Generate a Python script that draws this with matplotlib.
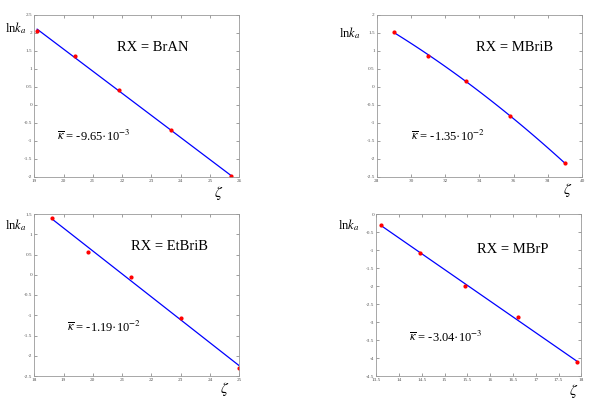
import numpy as np
import matplotlib
matplotlib.use("Agg")
import matplotlib.pyplot as plt

plt.rcParams["font.family"] = "Liberation Serif"
plt.rcParams["mathtext.fontset"] = "stix"

# data
zeta_bran = [19.1, 20.4, 21.9, 23.65, 25.7]
lnk_bran = [2.05, 1.35, 0.43, -0.70, -1.97]
zeta_mbrib = [29.0, 31.0, 33.2, 35.8, 39.0]
lnk_mbrib = [1.53, 0.86, 0.18, -0.80, -2.12]
zeta_etbrib = [18.6, 19.85, 21.3, 23.0, 25.0]
lnk_etbrib = [1.40, 0.56, -0.05, -1.07, -2.30]
zeta_mbrp = [13.6, 14.45, 15.45, 16.6, 17.9]
lnk_mbrp = [-0.30, -1.07, -2.00, -2.86, -4.12]

names = ["BrAN", "MBriB", "EtBriB", "MBrP"]
kappas = ["-9.65\u00b710$^{-3}$", "-1.35\u00b710$^{-2}$", "-1.19\u00b710$^{-2}$", "-3.04\u00b710$^{-3}$"]

xlims = [(19, 26), (28, 40), (18, 25), (13.5, 18)]
xticks = [np.arange(19, 27, 1), np.arange(28, 41, 2), np.arange(18, 26, 1), np.arange(13.5, 18.1, 0.5)]
ylims = [(-2, 2.5), (-2.5, 2), (-2.5, 1.5), (-4.5, 0)]
yticks = [np.arange(-2, 2.6, 0.5), np.arange(-2.5, 2.1, 0.5), np.arange(-2.5, 1.6, 0.5), np.arange(-4.5, 0.1, 0.5)]
fit_deg = [1, 2, 1, 1]

data = [(zeta_bran, lnk_bran), (zeta_mbrib, lnk_mbrib), (zeta_etbrib, lnk_etbrib), (zeta_mbrp, lnk_mbrp)]

positions = [[0.057, 0.5575, 0.342, 0.405], [0.628, 0.5575, 0.342, 0.405],
             [0.057, 0.06, 0.342, 0.405], [0.627, 0.06, 0.342, 0.405]]
rx_pos = [(0.405, 0.80), (0.485, 0.80), (0.47, 0.80), (0.49, 0.78)]
kap_pos = [(0.11, 0.25), (0.167, 0.25), (0.16, 0.30), (0.16, 0.24)]
lnk_pos = [(-0.04, 0.92), (-0.08, 0.89), (-0.04, 0.93), (-0.08, 0.93)]
zeta_pos = [(0.90, -0.10), (0.93, -0.08), (0.93, -0.08), (0.96, -0.09)]

fig = plt.figure(figsize=(6, 4), dpi=100)
for i in range(4):
    ax = fig.add_axes(positions[i])
    x, y = np.array(data[i][0]), np.array(data[i][1])
    p = np.polyfit(x, y, fit_deg[i])
    xx = np.linspace(x[0], x[-1], 100)
    ax.plot(xx, np.polyval(p, xx), color="blue", lw=0.9)
    ax.plot(x, y, "o", color="red", ms=2.0, mec="red")
    ax.set_xlim(*xlims[i])
    ax.set_ylim(*ylims[i])
    ax.set_xticks(xticks[i])
    ax.set_xticklabels(["%g" % v for v in xticks[i]])
    ax.set_yticks(yticks[i])
    ax.set_yticklabels(["%g" % round(v, 1) for v in yticks[i]])
    ax.tick_params(direction="in", length=2, width=0.4, labelsize=3.8, colors="#555555",
                   top=True, right=True, pad=1.5)
    for sp in ax.spines.values():
        sp.set_color("#999999")
        sp.set_linewidth(0.6)
    ax.text(*rx_pos[i], "RX = " + names[i], transform=ax.transAxes, fontsize=10.5, va="center")
    ax.text(*kap_pos[i], r"$\overline{\kappa}$ = " + kappas[i], transform=ax.transAxes, fontsize=9, va="center")
    ax.text(*lnk_pos[i], r"ln$k_a$", transform=ax.transAxes, fontsize=9, ha="right", va="center")
    ax.text(*zeta_pos[i], r"$\zeta$", transform=ax.transAxes, fontsize=11, ha="center", va="center")

fig.savefig("out.png", dpi=100)
